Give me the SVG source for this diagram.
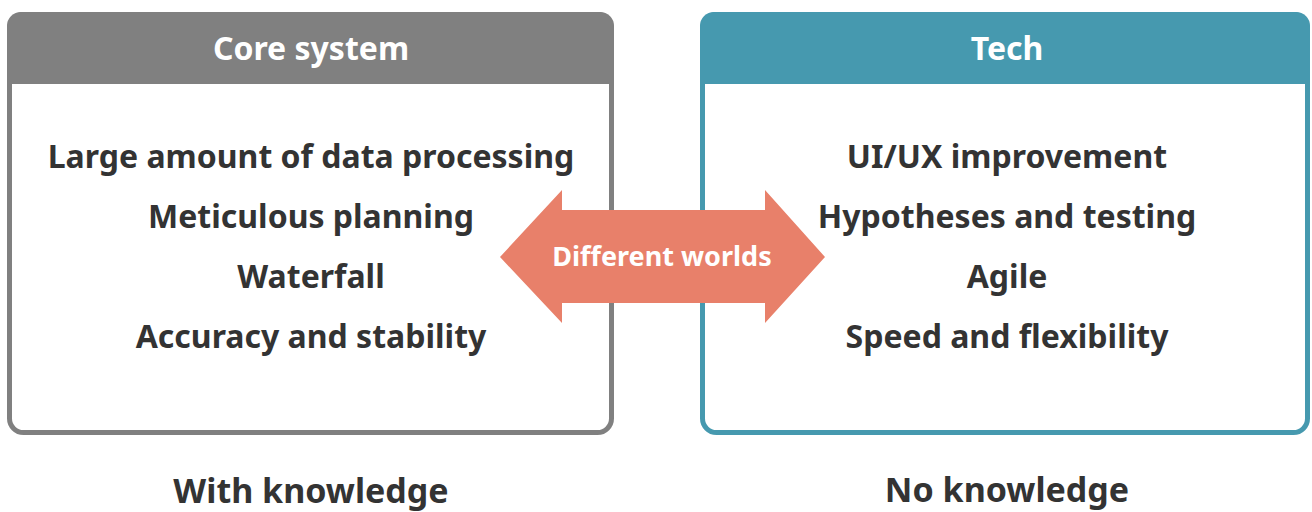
<svg xmlns="http://www.w3.org/2000/svg" width="1312" height="512" viewBox="0 0 1312 512">
  <style>
    .box { fill: #ffffff; stroke-width: 5; }
    .hdr-text { font-family: "Noto Sans", "Open Sans", sans-serif; font-weight: 700; font-size: 32px; fill: #ffffff; text-anchor: middle; }
    .item { font-family: "Noto Sans", "Open Sans", sans-serif; font-weight: 700; font-size: 32px; fill: #333333; text-anchor: middle; }
    .foot { font-family: "Noto Sans", "Open Sans", sans-serif; font-weight: 700; font-size: 34px; fill: #333333; text-anchor: middle; }
    .arrow-text { font-family: "Noto Sans", "Open Sans", sans-serif; font-weight: 700; font-size: 27px; fill: #ffffff; text-anchor: middle; }
  </style>
  <rect width="1312" height="512" fill="#ffffff"/>

  <!-- Core system panel -->
  <g id="core-system">
    <rect class="box" x="9.5" y="14.5" width="602" height="418" rx="14" stroke="#808080"/>
    <path d="M7 84 V26 A14 14 0 0 1 21 12 H600 A14 14 0 0 1 614 26 V84 Z" fill="#808080"/>
    <text class="hdr-text" x="311" y="60">Core system</text>
    <text class="item" x="311" y="168">Large amount of data processing</text>
    <text class="item" x="311" y="228">Meticulous planning</text>
    <text class="item" x="311" y="288">Waterfall</text>
    <text class="item" x="311" y="348">Accuracy and stability</text>
  </g>

  <!-- Tech panel -->
  <g id="tech">
    <rect class="box" x="702.5" y="14.5" width="605" height="418" rx="14" stroke="#4699AF"/>
    <path d="M700 84 V26 A14 14 0 0 1 714 12 H1296 A14 14 0 0 1 1310 26 V84 Z" fill="#4699AF"/>
    <text class="hdr-text" x="1007" y="60">Tech</text>
    <text class="item" x="1007" y="168">UI/UX improvement</text>
    <text class="item" x="1007" y="228">Hypotheses and testing</text>
    <text class="item" x="1007" y="288">Agile</text>
    <text class="item" x="1007" y="348">Speed and flexibility</text>
  </g>

  <!-- Double-headed arrow between the panels -->
  <g id="connectors">
    <path d="M500 257 L562 190 V210 H765 V190 L825 257 L765 323 V303 H562 V323 Z" fill="#E8806A"/>
    <text class="arrow-text" x="662" y="266">Different worlds</text>
  </g>

  <!-- Captions under the panels -->
  <g id="with-knowledge">
    <text class="foot" x="311" y="503">With knowledge</text>
  </g>
  <g id="no-knowledge">
    <text class="foot" x="1007" y="502">No knowledge</text>
  </g>
</svg>
